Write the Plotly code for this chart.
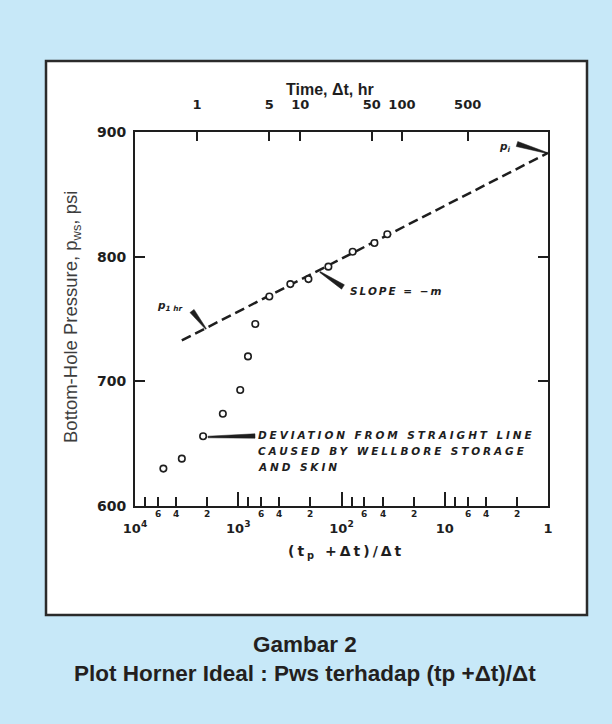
import math
import plotly.graph_objects as go

# Shut-in pressure readings: Horner time ratio (tp + dt)/dt and p_ws in psi
horner_ratio = [5310, 3520, 2190, 1410, 957, 805, 684, 500, 313, 209, 134, 78, 48, 36]
pws_psi = [630, 638, 656, 674, 693, 720, 746, 768, 778, 782, 792, 804, 811, 818]

# Straight-line (semilog) portion, from its left end up to p_i at a ratio of 1
line_ratio = [3520, 1]
line_pws = [732.8, 883.2]

# Producing time used to place the shut-in time scale on the top axis
tp_hours = 2500
time_tick_hours = [1, 5, 10, 50, 100, 500]

# Bottom axis ticks
decade_vals = [1e4, 1e3, 1e2, 10, 1]
decade_text = ["10<sup>4</sup>", "10<sup>3</sup>", "10<sup>2</sup>", "10", "1"]
minor_vals = [8000, 6000, 4000, 2000, 800, 600, 400, 200, 80, 60, 40, 20, 8, 6, 4, 2]
minor_label_vals = [6000, 4000, 2000, 600, 400, 200, 60, 40, 20, 6, 4, 2]
minor_label_text = ["6", "4", "2"] * 4

pressure_ticks = [600, 700, 800, 900]

# ---- page geometry (pixels) ----
W, H = 612, 724
PL, PR, PT, PB = 135, 548, 132, 506  # plot area edges


def px(x):
    return (x - PL) / (PR - PL)


def py(y):
    return (PB - y) / (PB - PT)


INK = "#1e1e1e"
TYPE_FONT = "DejaVu Sans"

fig = go.Figure()

fig.add_trace(go.Scatter(
    x=line_ratio, y=line_pws, mode="lines",
    line=dict(color=INK, width=2.5, dash="10px,5px"),
    hoverinfo="skip", showlegend=False,
))
fig.add_trace(go.Scatter(
    x=horner_ratio, y=pws_psi, mode="markers",
    marker=dict(symbol="circle", size=6.5, color="white",
                line=dict(color=INK, width=1.6)),
    showlegend=False,
))
# carrier for the top time axis
fig.add_trace(go.Scatter(x=[], y=[], xaxis="x2", yaxis="y",
                         showlegend=False, hoverinfo="skip"))

top_tickvals = [(tp_hours + t) / t for t in time_tick_hours]

tick_font = dict(family=TYPE_FONT, size=13, color=INK, weight="bold")

fig.update_layout(
    width=W, height=H,
    margin=dict(l=PL, r=W - PR, t=PT, b=H - PB, pad=0),
    paper_bgcolor="#C7E8F8",
    plot_bgcolor="white",
    xaxis=dict(
        type="log", range=[4, 0],
        tickmode="array", tickvals=decade_vals, ticktext=decade_text,
        ticks="inside", ticklen=14, tickwidth=1.5, tickcolor=INK,
        showline=True, linecolor=INK, linewidth=2, mirror=True,
        showgrid=False, zeroline=False,
        tickfont=tick_font, ticklabelstandoff=9,
        minor=dict(tickmode="array", tickvals=minor_vals, ticks="inside",
                   ticklen=9, tickwidth=1.5, tickcolor=INK, showgrid=False),
    ),
    xaxis2=dict(
        type="log", range=[4, 0], overlaying="x", side="top", anchor="y",
        tickmode="array", tickvals=top_tickvals,
        ticktext=[str(t) for t in time_tick_hours],
        ticks="inside", ticklen=9, tickwidth=1.5, tickcolor=INK,
        showline=False, showgrid=False, zeroline=False,
        tickfont=tick_font, ticklabelstandoff=19,
    ),
    yaxis=dict(
        range=[600, 900], tickmode="array", tickvals=pressure_ticks,
        ticks="inside", ticklen=10, tickwidth=1.5, tickcolor=INK,
        showline=True, linecolor=INK, linewidth=2, mirror="ticks",
        showgrid=False, zeroline=False,
        tickfont=dict(family=TYPE_FONT, size=14, color=INK, weight="bold"),
        ticklabelstandoff=4,
    ),
)

shapes = []
# white figure panel with dark border
shapes.append(dict(type="rect", xref="paper", yref="paper",
                   x0=px(46), x1=px(587), y0=py(615), y1=py(61),
                   line=dict(color="#2b2b2b", width=2.5), fillcolor="white",
                   layer="below"))


def pointer(tail, tip, w_tail=2.6, w_tip=0.5):
    """Tapered leader: broad at the label end, narrowing to the mark."""
    (tx, ty), (hx, hy) = tail, tip
    dx, dy = hx - tx, hy - ty
    n = math.hypot(dx, dy)
    nx, ny = -dy / n, dx / n
    pts = [(tx + nx * w_tail, ty + ny * w_tail), (hx + nx * w_tip, hy + ny * w_tip),
           (hx - nx * w_tip, hy - ny * w_tip), (tx - nx * w_tail, ty - ny * w_tail)]
    path = "M " + " L ".join(f"{px(a):.5f},{py(b):.5f}" for a, b in pts) + " Z"
    return dict(type="path", xref="paper", yref="paper", path=path,
                fillcolor=INK, line=dict(color=INK, width=0.5))


shapes.append(pointer((517, 144), (547, 153)))
shapes.append(pointer((192, 311), (206, 329)))
shapes.append(pointer((343, 287), (320, 272)))
shapes.append(pointer((255, 436), (208, 437), w_tail=2.2, w_tip=0.8))
fig.update_layout(shapes=shapes)

ann = []


def label(x, y, text, font, xanchor="center", **kw):
    return dict(x=px(x), y=py(y), xref="paper", yref="paper", text=text,
                showarrow=False, xanchor=xanchor, yanchor="middle", font=font, **kw)


# minor tick labels on the Horner-ratio axis
for v, t in zip(minor_label_vals, minor_label_text):
    ann.append(dict(x=math.log10(v), xref="x", y=py(514), yref="paper",
                    xanchor="center", yanchor="middle",
                    text=t, showarrow=False,
                    font=dict(family=TYPE_FONT, size=9, color=INK, weight="bold")))

# axis titles
ann.append(label(330, 89, "Time, \u0394t, hr",
                 dict(family="Liberation Sans", size=16, color=INK, weight="bold")))
ann.append(label(346, 552,
                 '<span style="letter-spacing:3px">(t<sub>p</sub> +\u0394t)/\u0394t</span>',
                 dict(family=TYPE_FONT, size=14, color=INK, weight="bold")))
ann.append(label(72, 317, "Bottom-Hole Pressure, p<sub>ws</sub>, psi",
                 dict(family="Liberation Sans", size=18.5, color="#3d3d3d"),
                 textangle=-90))

# in-plot labels
label_font = dict(family=TYPE_FONT, size=10.5, color=INK, weight="bold", style="italic")
ann.append(label(505, 147, "p<sub>i</sub>", label_font))
ann.append(label(169, 306, "p<sub>1 hr</sub>", label_font))
ann.append(label(348, 291, '<span style="letter-spacing:2px">SLOPE = \u2212m</span>',
                 label_font, xanchor="left"))
dev_lines = ["DEVIATION FROM STRAIGHT LINE", "CAUSED BY WELLBORE STORAGE", "AND SKIN"]
for i, t in enumerate(dev_lines):
    ann.append(label(256, 435 + 16 * i,
                     '<span style="letter-spacing:2.9px">' + t + "</span>",
                     label_font, xanchor="left"))

# caption
cap_font = dict(family="Liberation Sans", size=22.5, color="#231F20", weight="bold")
ann.append(label(305, 644, "Gambar 2", cap_font))
ann.append(label(305, 673, "Plot Horner Ideal : Pws terhadap (tp +\u0394t)/\u0394t", cap_font))

fig.update_layout(annotations=ann)

fig.write_html("out.html")
